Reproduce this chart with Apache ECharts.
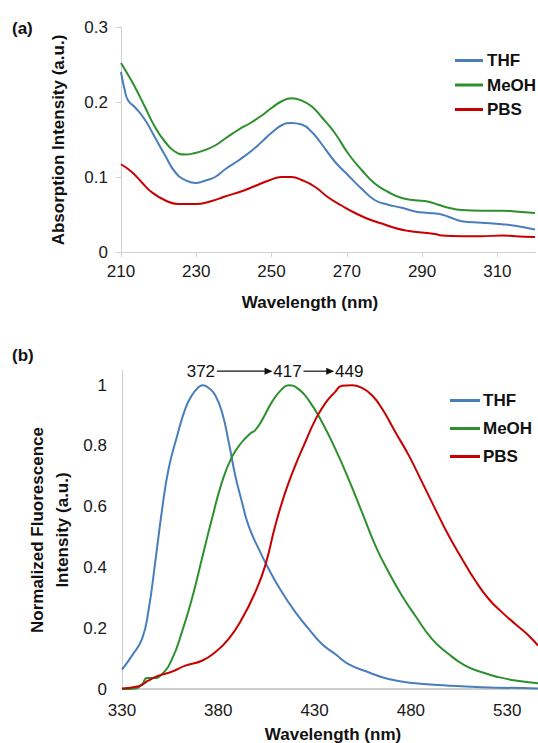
<!DOCTYPE html>
<html>
<head>
<meta charset="utf-8">
<script src="https://cdn.jsdelivr.net/npm/echarts@6/dist/echarts.min.js"></script>
<style>
html,body{margin:0;padding:0;background:#fff;}
#c{width:538px;height:743px;}
</style>
</head>
<body>
<div id="c"></div>
<script>
// ---------- (a) Absorption data ----------
const absTHF_nm  = [210, 210.9, 211.9, 213.7, 216.4, 219, 221.7, 224.3, 227, 229.7, 232.3, 235, 237.6, 241.2, 244.7, 247.4, 250, 252.7, 255.3, 258, 260.7, 263.3, 266.9, 270.4, 274, 277.5, 281, 284.6, 288.1, 291.7, 294.3, 297, 300.5, 305.8, 311.2, 314.7, 320];
const absTHF_val = [0.240, 0.218, 0.202, 0.193, 0.176, 0.153, 0.129, 0.107, 0.096, 0.092, 0.095, 0.100, 0.110, 0.122, 0.135, 0.147, 0.159, 0.169, 0.172, 0.170, 0.160, 0.144, 0.120, 0.102, 0.084, 0.069, 0.063, 0.059, 0.054, 0.052, 0.051, 0.047, 0.041, 0.039, 0.037, 0.035, 0.030];
const absMeOH_nm  = [210, 211.9, 213.7, 216.4, 219, 221.7, 224.3, 227, 229.7, 232.3, 235, 237.6, 241.2, 244.7, 247.4, 250, 252.7, 255.3, 258, 260.7, 263.3, 266.9, 270.4, 274, 277.5, 281, 284.6, 288.1, 291.7, 294.3, 297, 300.5, 305.8, 311.2, 314.7, 320];
const absMeOH_val = [0.252, 0.236, 0.220, 0.193, 0.167, 0.147, 0.134, 0.130, 0.132, 0.136, 0.142, 0.151, 0.163, 0.173, 0.182, 0.192, 0.201, 0.205, 0.202, 0.194, 0.180, 0.158, 0.131, 0.109, 0.091, 0.080, 0.072, 0.069, 0.067, 0.063, 0.059, 0.056, 0.055, 0.055, 0.054, 0.052];
const absPBS_nm  = [210, 212.8, 215.5, 218.1, 221.7, 225.2, 229.7, 234.1, 237.6, 242.1, 245.6, 249.1, 252.7, 255.3, 258, 261.5, 265, 268.6, 272.2, 275.7, 279.3, 282.8, 286.4, 289.9, 293.4, 295.2, 300.5, 305.8, 311.2, 314.7, 320];
const absPBS_val = [0.117, 0.107, 0.093, 0.080, 0.069, 0.064, 0.064, 0.068, 0.074, 0.081, 0.088, 0.095, 0.100, 0.100, 0.096, 0.087, 0.073, 0.062, 0.052, 0.044, 0.038, 0.032, 0.028, 0.026, 0.024, 0.022, 0.021, 0.021, 0.022, 0.021, 0.020];

// ---------- (b) Fluorescence data ----------
const flTHF_nm  = [330, 335.2, 340.4, 343.8, 347.3, 350.8, 354.2, 358.5, 362.9, 366.3, 369.8, 371.9, 375, 378.4, 381.9, 385.4, 388.8, 392.3, 395.7, 400.9, 406.1, 413, 420, 426.9, 433.8, 440.7, 447.6, 458, 468.4, 482.2, 499.6, 516.9, 546];
const flTHF_val = [0.064, 0.110, 0.165, 0.260, 0.420, 0.590, 0.725, 0.830, 0.923, 0.967, 0.994, 1.000, 0.991, 0.967, 0.912, 0.813, 0.703, 0.615, 0.538, 0.462, 0.396, 0.319, 0.253, 0.198, 0.148, 0.115, 0.082, 0.055, 0.033, 0.019, 0.011, 0.006, 0.002];
const flMeOH_nm  = [330, 336.9, 340.4, 343, 346.4, 350.8, 356, 361.1, 366.3, 371.5, 376.7, 381.9, 387.1, 392.3, 396.6, 399.2, 402.7, 407.9, 413, 416.5, 421.7, 426.9, 433.8, 440.7, 447.6, 454.6, 461.5, 468.4, 475.3, 482.2, 490.9, 499.6, 508.2, 516.9, 525.5, 534.2, 546];
const flMeOH_val = [0.000, 0.002, 0.016, 0.036, 0.036, 0.049, 0.099, 0.187, 0.297, 0.429, 0.560, 0.681, 0.764, 0.813, 0.841, 0.852, 0.885, 0.945, 0.987, 1.000, 0.987, 0.951, 0.879, 0.791, 0.692, 0.582, 0.473, 0.385, 0.308, 0.242, 0.165, 0.115, 0.077, 0.055, 0.039, 0.028, 0.019];
const flPBS_nm  = [330, 338.7, 343.8, 349, 356, 362.9, 371.5, 378.4, 385.4, 392.3, 399.2, 404.4, 409.6, 414.8, 420, 425.2, 430.3, 435.5, 440.7, 444.2, 449.4, 454.6, 459.8, 465, 471.9, 478.9, 485.8, 492.6, 499.6, 506.5, 513.4, 520.3, 527.2, 534.2, 541.1, 546];
const flPBS_val = [0.002, 0.009, 0.028, 0.044, 0.057, 0.077, 0.093, 0.121, 0.165, 0.231, 0.319, 0.407, 0.538, 0.648, 0.736, 0.813, 0.885, 0.940, 0.978, 0.998, 1.000, 0.991, 0.967, 0.923, 0.846, 0.769, 0.681, 0.593, 0.505, 0.429, 0.357, 0.297, 0.253, 0.214, 0.176, 0.143];

const seriesNames = ['THF', 'MeOH', 'PBS'];
const peakLabels = [372, 417, 449];
const absYTicks = {min: 0, max: 0.3, interval: 0.1};
const absXTicks = {min: 210, max: 320, interval: 20};
const flYTicks = {min: 0, max: 1.05, interval: 0.2};
const flXTicks = {min: 330, max: 546, interval: 50};

const colors = ['#4a7ebb', '#2e8f2e', '#c80000'];
const FONT = "'Liberation Sans', Arial, Helvetica, sans-serif";
const axisGrey = '#cfcfcf';

function pairs(xs, ys) { return xs.map((x, i) => [x, ys[i]]); }

const chart = echarts.init(document.getElementById('c'), null, {renderer: 'svg'});

const labelStyle = {color: '#1a1a1a', fontSize: 17, fontFamily: FONT};

const option = {
  animation: false,
  backgroundColor: '#ffffff',
  grid: [
    {left: 121, top: 27, width: 414, height: 225, outerBoundsMode: 'none', containLabel: false},
    {left: 122, top: 370, width: 416, height: 319, outerBoundsMode: 'none', containLabel: false}
  ],
  xAxis: [
    {type: 'value', gridIndex: 0, min: absXTicks.min, max: absXTicks.max, interval: absXTicks.interval,
     axisLine: {show: true, onZero: false, lineStyle: {color: axisGrey, width: 1}},
     axisTick: {show: true, length: 5, inside: false, lineStyle: {color: axisGrey}},
     splitLine: {show: false},
     axisLabel: Object.assign({margin: 11, showMaxLabel: false}, labelStyle)},
    {type: 'value', gridIndex: 1, min: flXTicks.min, max: flXTicks.max, interval: flXTicks.interval,
     axisLine: {show: true, onZero: false, lineStyle: {color: axisGrey, width: 2}},
     axisTick: {show: false},
     splitLine: {show: false},
     axisLabel: Object.assign({margin: 13, showMaxLabel: false}, labelStyle)}
  ],
  yAxis: [
    {type: 'value', gridIndex: 0, min: absYTicks.min, max: absYTicks.max, interval: absYTicks.interval,
     axisLine: {show: true, onZero: false, lineStyle: {color: axisGrey, width: 1}},
     axisTick: {show: true, length: 5, inside: false, lineStyle: {color: axisGrey}},
     splitLine: {show: false},
     axisLabel: Object.assign({margin: 13}, labelStyle)},
    {type: 'value', gridIndex: 1, min: flYTicks.min, max: flYTicks.max, interval: flYTicks.interval,
     axisLine: {show: true, onZero: false, lineStyle: {color: axisGrey, width: 1}},
     axisTick: {show: false},
     splitLine: {show: false},
     axisLabel: Object.assign({margin: 15, showMaxLabel: false}, labelStyle)}
  ],
  legend: [
    {orient: 'vertical', left: 455, top: 52, padding: 0, itemGap: 7.5, itemWidth: 28, itemHeight: 3,
     icon: 'rect', data: seriesNames, selectedMode: false,
     textStyle: {color: '#111', fontSize: 17, fontWeight: 'bold', fontFamily: FONT, lineHeight: 17, padding: [0, 0, 0, -1]}},
    {orient: 'vertical', left: 450, top: 392, padding: 0, itemGap: 11, itemWidth: 30, itemHeight: 3,
     icon: 'rect', data: seriesNames, selectedMode: false,
     textStyle: {color: '#111', fontSize: 17, fontWeight: 'bold', fontFamily: FONT, lineHeight: 17, padding: [0, 0, 0, -2]}}
  ],
  series: [
    {name: 'THF', type: 'line', xAxisIndex: 0, yAxisIndex: 0, data: pairs(absTHF_nm, absTHF_val)},
    {name: 'MeOH', type: 'line', xAxisIndex: 0, yAxisIndex: 0, data: pairs(absMeOH_nm, absMeOH_val)},
    {name: 'PBS', type: 'line', xAxisIndex: 0, yAxisIndex: 0, data: pairs(absPBS_nm, absPBS_val)},
    {name: 'THF', type: 'line', xAxisIndex: 1, yAxisIndex: 1, data: pairs(flTHF_nm, flTHF_val)},
    {name: 'MeOH', type: 'line', xAxisIndex: 1, yAxisIndex: 1, data: pairs(flMeOH_nm, flMeOH_val)},
    {name: 'PBS', type: 'line', xAxisIndex: 1, yAxisIndex: 1, data: pairs(flPBS_nm, flPBS_val)}
  ].map((s) => Object.assign(s, {
    showSymbol: false, symbol: 'none', smooth: 0.5, clip: true,
    color: colors[seriesNames.indexOf(s.name)],
    lineStyle: {width: 2, color: colors[seriesNames.indexOf(s.name)]}
  }))
};
chart.setOption(option);

// ---------- text & annotation ----------
const titleFont = "bold 17px " + FONT;
const g = [
  {type: 'text', x: 12, y: 28, style: {text: '(a)', font: titleFont, fill: '#111', align: 'left', verticalAlign: 'middle'}},
  {type: 'text', x: 12, y: 355, style: {text: '(b)', font: titleFont, fill: '#111', align: 'left', verticalAlign: 'middle'}},
  {type: 'text', x: 58, y: 140, rotation: Math.PI / 2, style: {text: 'Absorption Intensity (a.u.)', font: titleFont, fill: '#111', align: 'center', verticalAlign: 'middle'}},
  {type: 'text', x: 310, y: 302, style: {text: 'Wavelength (nm)', font: titleFont, fill: '#111', align: 'center', verticalAlign: 'middle'}},
  {type: 'text', x: 37, y: 530, rotation: Math.PI / 2, style: {text: 'Normalized Fluorescence', font: titleFont, fill: '#111', align: 'center', verticalAlign: 'middle'}},
  {type: 'text', x: 62, y: 530, rotation: Math.PI / 2, style: {text: 'Intensity (a.u.)', font: titleFont, fill: '#111', align: 'center', verticalAlign: 'middle'}},
  {type: 'text', x: 333, y: 734, style: {text: 'Wavelength (nm)', font: titleFont, fill: '#111', align: 'center', verticalAlign: 'middle'}}
];

const peakPx = peakLabels.map(v => chart.convertToPixel({gridIndex: 1}, [v, 1]));
const annY = peakPx[0][1] - 14;
const cx = peakPx.map(p => p[0] - 2);
peakLabels.forEach((v, i) => {
  g.push({type: 'text', x: cx[i], y: annY, style: {text: String(v), font: '17px ' + FONT, fill: '#111', align: 'center', verticalAlign: 'middle'}});
});
for (let i = 0; i < cx.length - 1; i++) {
  const x1 = cx[i] + 16, x2 = cx[i + 1] - 15;
  g.push({type: 'line', shape: {x1: x1, y1: annY, x2: x2 - 6, y2: annY}, style: {stroke: '#111', lineWidth: 1.2}});
  g.push({type: 'polygon', shape: {points: [[x2, annY], [x2 - 8, annY - 3.5], [x2 - 8, annY + 3.5]]}, style: {fill: '#111'}});
}
chart.setOption({graphic: g});
</script>
</body>
</html>
